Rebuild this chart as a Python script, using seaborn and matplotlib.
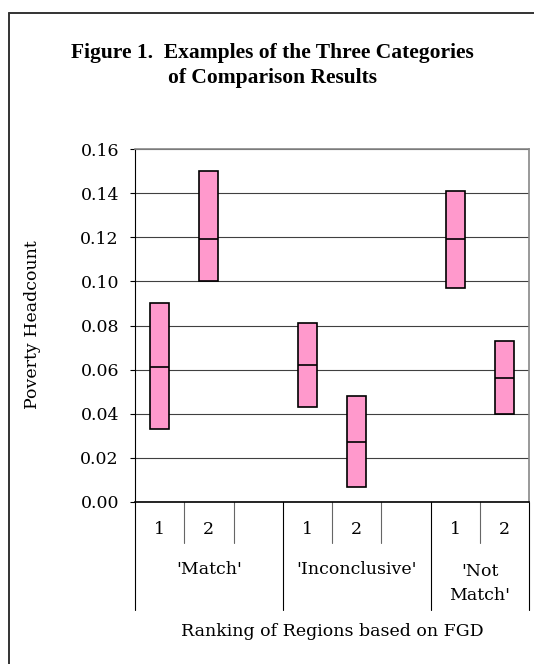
import matplotlib

matplotlib.use("Agg")
import matplotlib.pyplot as plt
import matplotlib.transforms as mtransforms
from matplotlib.lines import Line2D
import pandas as pd
import seaborn as sns

# slots along the x axis (blank slots separate the groups)
slot_order = [
    "Match-1", "Match-2", "Match-gap",
    "Inconclusive-1", "Inconclusive-2", "Inconclusive-gap",
    "NotMatch-1", "NotMatch-2",
]
slot_labels = ["1", "2", "", "1", "2", "", "1", "2"]
group_names = ["'Match'", "'Inconclusive'", "'Not\nMatch'"]
group_slots = [[0, 1, 2], [3, 4, 5], [6, 7]]

# poverty headcount ranges for each region
bar_slots = ["Match-1", "Match-2", "Inconclusive-1", "Inconclusive-2", "NotMatch-1", "NotMatch-2"]
low_vals = [0.033, 0.100, 0.043, 0.007, 0.097, 0.040]
mid_vals = [0.061, 0.119, 0.062, 0.027, 0.119, 0.056]
high_vals = [0.090, 0.150, 0.081, 0.048, 0.141, 0.073]

y_ticks = [0.00, 0.02, 0.04, 0.06, 0.08, 0.10, 0.12, 0.14, 0.16]

sns.set_style("ticks")
plt.rcParams["font.family"] = ["DejaVu Serif"]
plt.rcParams["text.color"] = "black"
plt.rcParams["ytick.color"] = "black"
plt.rcParams["xtick.color"] = "black"
plt.rcParams["axes.labelcolor"] = "black"

W, H = 534, 664
FS = 12.5
fig = plt.figure(figsize=(W / 100, H / 100), dpi=100)
left, right, top, bottom = 135, 529, 149, 502
ax = fig.add_axes([left / W, 1 - bottom / H, (right - left) / W, (bottom - top) / H])

df = pd.DataFrame({
    "slot": bar_slots,
    "low": low_vals,
    "span": [h - l for h, l in zip(high_vals, low_vals)],
})
sns.barplot(
    data=df, x="slot", y="span", order=slot_order, bottom=df["low"].values,
    color="#FF99CC", saturation=1, edgecolor="black", linewidth=1.2,
    width=0.39, errorbar=None, ax=ax, zorder=3,
)
for s, m in zip(bar_slots, mid_vals):
    pos = slot_order.index(s)
    ax.hlines(m, pos - 0.195, pos + 0.195, color="black", lw=1.2, zorder=4)

ax.set_xlim(-0.5, len(slot_order) - 0.5)
ax.set_ylim(0, 0.16)
ax.set_yticks(y_ticks)
ax.set_yticklabels([f"{v:.2f}" for v in y_ticks], fontsize=FS)
ax.yaxis.grid(True, color="#404040", lw=0.8)
ax.set_axisbelow(True)
ax.tick_params(axis="y", length=3.6, width=0.8, pad=8, color="black")
ax.set_xticks([])
ax.set_xlabel("")
ax.set_ylabel("")
for side in ["top", "right"]:
    ax.spines[side].set_visible(True)
    ax.spines[side].set_color("#888888")
    ax.spines[side].set_linewidth(1.2)
ax.spines["left"].set_color("black")
ax.spines["bottom"].set_color("black")
ax.spines["left"].set_linewidth(0.8)
ax.spines["bottom"].set_linewidth(1.2)

# category table under the axis
trans = mtransforms.blended_transform_factory(ax.transData, ax.transAxes)
plot_h = bottom - top
short_d = (543 - bottom) / plot_h
long_d = (610 - bottom) / plot_h
group_edges = [-0.5, 2.5, 5.5, 7.5]
for i in range(len(slot_order) + 1):
    b = i - 0.5
    if b in group_edges:
        ax.plot([b, b], [0, -long_d], transform=trans, clip_on=False, color="black", lw=0.8)
    else:
        ax.plot([b, b], [0, -short_d], transform=trans, clip_on=False, color="#666666", lw=0.8)

for i, lab in enumerate(slot_labels):
    ax.text(i, -(530 - bottom) / plot_h, lab, transform=trans, ha="center", va="center", fontsize=FS)

for name, idx in zip(group_names, group_slots):
    cx = (idx[0] + idx[-1]) / 2
    if "\n" in name:
        ax.text(cx, -(583.5 - bottom) / plot_h, name, transform=trans, ha="center",
                va="center", fontsize=FS, linespacing=1.55)
    else:
        ax.text(cx, -(570 - bottom) / plot_h, name, transform=trans, ha="center",
                va="center", fontsize=FS)

fig.text(332.5 / W, 1 - 632 / H, "Ranking of Regions based on FGD", ha="center", va="center", fontsize=FS)
fig.text(33 / W, 1 - 325 / H, "Poverty Headcount", rotation=90, ha="center", va="center", fontsize=FS)

fig.text(272 / W, 1 - 53 / H, "Figure 1.  Examples of the Three Categories", ha="center", va="center",
         fontsize=15.5, fontweight="bold", family=["Liberation Serif"])
fig.text(272 / W, 1 - 78 / H, "of Comparison Results", ha="center", va="center",
         fontsize=15.5, fontweight="bold", family=["Liberation Serif"])

# outer frame (only left and top edges fall inside the image)
fig.add_artist(Line2D([8.5 / W, 8.5 / W], [0, 1 - 13 / H], color="#333333", lw=1.4))
fig.add_artist(Line2D([8.5 / W, 1], [1 - 13 / H, 1 - 13 / H], color="#333333", lw=1.4))

fig.savefig("out.png", dpi=100)
